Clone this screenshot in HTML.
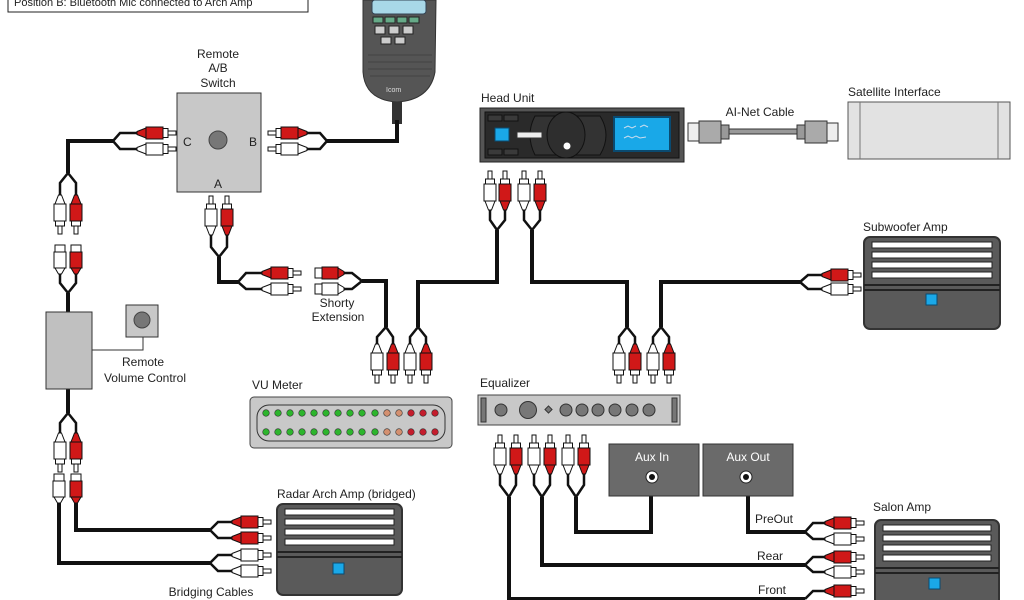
<!DOCTYPE html>
<html><head><meta charset="utf-8"><style>
html,body{margin:0;padding:0;background:#fff;}
svg{display:block;font-family:"Liberation Sans",sans-serif;}
text{font-size:12px;fill:#222;}
</style></head><body>
<svg width="1024" height="600" viewBox="0 0 1024 600" xmlns="http://www.w3.org/2000/svg">
<defs>
<g id="pr" stroke="#111" stroke-width="1">
<polygon points="0,-1.5 9,-5 9,5 0,1.5" fill="currentColor"/>
<rect x="9" y="-6" width="17" height="12" fill="currentColor"/>
<rect x="26" y="-4.5" width="5" height="9" fill="#fff"/>
<rect x="31" y="-2" width="8" height="4" fill="#fff"/>
</g>
<g id="jk" stroke="#111" stroke-width="1">
<polygon points="0,-1.5 6,-5 6,5 0,1.5" fill="currentColor"/>
<rect x="6" y="-6" width="16" height="12" fill="currentColor"/>
<rect x="22" y="-5" width="7" height="10" fill="#fff"/>
</g>
<g id="amp">
<rect x="0" y="0" width="100" height="100" rx="6" fill="#5a5a5a" stroke="#333" stroke-width="2"/>
</g>
</defs>

<!-- top label -->
<rect x="8" y="-6" width="300" height="18" fill="#fff" stroke="#222" stroke-width="1"/>
<text x="14" y="6" style="font-size:11px">Position B: Bluetooth Mic connected to Arch Amp</text>

<!-- mic -->
<path d="M363 0 L363 72 Q365 100 397 102 Q430 100 435 72 L436 0 Z" fill="#555" stroke="#333"/>
<rect x="372" y="0" width="54" height="14" rx="3" fill="#a8d8e8" stroke="#345"/>
<g fill="#6a8" stroke="#222"><rect x="373" y="17" width="10" height="6"/><rect x="385" y="17" width="10" height="6"/><rect x="397" y="17" width="10" height="6"/><rect x="409" y="17" width="10" height="6"/></g>
<g fill="#ccc" stroke="#222"><rect x="375" y="26" width="10" height="8"/><rect x="389" y="26" width="10" height="8"/><rect x="403" y="26" width="10" height="8"/><rect x="381" y="37" width="10" height="7"/><rect x="395" y="37" width="10" height="7"/></g>
<g stroke="#444" stroke-width="1"><line x1="368" y1="55" x2="432" y2="55"/><line x1="368" y1="62" x2="432" y2="62"/><line x1="368" y1="69" x2="432" y2="69"/><line x1="370" y1="76" x2="430" y2="76"/></g>
<text x="386" y="92" style="font-size:7px;fill:#ddd">Icom</text>
<rect x="392" y="102" width="10" height="22" fill="#333"/>

<!-- switch -->
<text x="218" y="58" text-anchor="middle">Remote</text>
<text x="218" y="72" text-anchor="middle">A/B</text>
<text x="218" y="87" text-anchor="middle">Switch</text>
<rect x="177" y="93" width="84" height="99" fill="#c8c8c8" stroke="#333"/>
<circle cx="218" cy="140" r="9" fill="#777" stroke="#444"/>
<text x="183" y="146">C</text><text x="249" y="146">B</text><text x="214" y="188">A</text>

<!-- main cables -->
<g fill="none" stroke="#111" stroke-width="4">
<path d="M113 141 H68 V173"/>
<path d="M68 293 V312"/>
<path d="M327 141 H397 V120"/>
<path d="M219 257 V282 H238"/>
<path d="M362 281 H386 V327"/>
<path d="M497 230 V282 H418 V327"/>
<path d="M532 230 V282 H627 V327"/>
<path d="M661 327 V282 H800"/>
<path d="M68 389 V413"/>
<path d="M76 503 V530 H210"/>
<path d="M59 503 V563 H210"/>
<path d="M576 497 V532 H651 V496"/>
<path d="M542 497 V565 H805"/>
<path d="M509 497 V599 H805"/>
<path d="M748 496 V532 H805"/>
</g>
<g fill="none" stroke="#111" stroke-width="2.5">
<path d="M113 141 L120 133 H137 M113 141 L120 149 H137"/>
<path d="M68 173 L60 183 V195 M68 173 L76 183 V195"/>
<path d="M60 274 V283 L68 293 M76 274 V283 L68 293"/>
<path d="M327 141 L320 133 H307 M327 141 L320 149 H307"/>
<path d="M211 235 V247 L219 257 M227 235 V247 L219 257"/>
<path d="M238 282 L246 273 H262 M238 282 L246 289 H262"/>
<path d="M344 273 H352 L362 281 M344 289 H352 L362 281"/>
<path d="M386 327 L377 337 V344 M386 327 L393 337 V344"/>
<path d="M418 327 L410 337 V344 M418 327 L426 337 V344"/>
<path d="M490 210 V220 L497 230 M505 210 V220 L497 230"/>
<path d="M524 210 V220 L532 230 M540 210 V220 L532 230"/>
<path d="M627 327 L619 337 V344 M627 327 L635 337 V344"/>
<path d="M661 327 L653 337 V344 M661 327 L669 337 V344"/>
<path d="M800 282 L808 275 H822 M800 282 L808 289 H822"/>
<path d="M68 413 L60 423 V433 M68 413 L76 423 V433"/>
<path d="M210 530 L218 522 H232 M210 530 L218 538 H232"/>
<path d="M210 563 L218 555 H232 M210 563 L218 571 H232"/>
<path d="M500 474 V485 L509 497 M516 474 V485 L509 497"/>
<path d="M534 474 V485 L542 497 M550 474 V485 L542 497"/>
<path d="M568 474 V485 L576 497 M584 474 V485 L576 497"/>
<path d="M805 532 L813 523 H825 M805 532 L813 539 H825"/>
<path d="M805 565 L813 557 H825 M805 565 L813 572 H825"/>
<path d="M805 599 L813 591 H825"/>
</g>

<!-- plugs -->
<use href="#pr" color="#d01818" transform="translate(137,133)"/>
<use href="#pr" color="#fff" transform="translate(137,149)"/>
<use href="#pr" color="#fff" transform="translate(60,195) rotate(90)"/>
<use href="#pr" color="#d01818" transform="translate(76,195) rotate(90)"/>
<use href="#jk" color="#fff" transform="translate(60,274) rotate(-90)"/>
<use href="#jk" color="#d01818" transform="translate(76,274) rotate(-90)"/>
<use href="#pr" color="#d01818" transform="translate(307,133) scale(-1,1)"/>
<use href="#pr" color="#fff" transform="translate(307,149) scale(-1,1)"/>
<use href="#pr" color="#fff" transform="translate(211,235) rotate(-90)"/>
<use href="#pr" color="#d01818" transform="translate(227,235) rotate(-90)"/>
<use href="#pr" color="#d01818" transform="translate(262,273)"/>
<use href="#pr" color="#fff" transform="translate(262,289)"/>
<use href="#jk" color="#d01818" transform="translate(344,273) scale(-1,1)"/>
<use href="#jk" color="#fff" transform="translate(344,289) scale(-1,1)"/>
<use href="#pr" color="#fff" transform="translate(377,344) rotate(90)"/>
<use href="#pr" color="#d01818" transform="translate(393,344) rotate(90)"/>
<use href="#pr" color="#fff" transform="translate(410,344) rotate(90)"/>
<use href="#pr" color="#d01818" transform="translate(426,344) rotate(90)"/>
<use href="#pr" color="#fff" transform="translate(490,210) rotate(-90)"/>
<use href="#pr" color="#d01818" transform="translate(505,210) rotate(-90)"/>
<use href="#pr" color="#fff" transform="translate(524,210) rotate(-90)"/>
<use href="#pr" color="#d01818" transform="translate(540,210) rotate(-90)"/>
<use href="#pr" color="#fff" transform="translate(619,344) rotate(90)"/>
<use href="#pr" color="#d01818" transform="translate(635,344) rotate(90)"/>
<use href="#pr" color="#fff" transform="translate(653,344) rotate(90)"/>
<use href="#pr" color="#d01818" transform="translate(669,344) rotate(90)"/>
<use href="#pr" color="#d01818" transform="translate(822,275)"/>
<use href="#pr" color="#fff" transform="translate(822,289)"/>
<use href="#pr" color="#fff" transform="translate(60,433) rotate(90)"/>
<use href="#pr" color="#d01818" transform="translate(76,433) rotate(90)"/>
<use href="#jk" color="#fff" transform="translate(59,503) rotate(-90)"/>
<use href="#jk" color="#d01818" transform="translate(76,503) rotate(-90)"/>
<use href="#pr" color="#d01818" transform="translate(232,522)"/>
<use href="#pr" color="#d01818" transform="translate(232,538)"/>
<use href="#pr" color="#fff" transform="translate(232,555)"/>
<use href="#pr" color="#fff" transform="translate(232,571)"/>
<use href="#pr" color="#fff" transform="translate(500,474) rotate(-90)"/>
<use href="#pr" color="#d01818" transform="translate(516,474) rotate(-90)"/>
<use href="#pr" color="#fff" transform="translate(534,474) rotate(-90)"/>
<use href="#pr" color="#d01818" transform="translate(550,474) rotate(-90)"/>
<use href="#pr" color="#fff" transform="translate(568,474) rotate(-90)"/>
<use href="#pr" color="#d01818" transform="translate(584,474) rotate(-90)"/>
<use href="#pr" color="#d01818" transform="translate(825,523)"/>
<use href="#pr" color="#fff" transform="translate(825,539)"/>
<use href="#pr" color="#d01818" transform="translate(825,557)"/>
<use href="#pr" color="#fff" transform="translate(825,572)"/>
<use href="#pr" color="#d01818" transform="translate(825,591)"/>

<text x="337" y="307" text-anchor="middle">Shorty</text>
<text x="338" y="321" text-anchor="middle">Extension</text>

<!-- head unit -->
<text x="481" y="102">Head Unit</text>
<rect x="480" y="108" width="204" height="54" fill="#555" stroke="#222"/>
<rect x="485" y="112" width="194" height="46" fill="#2a2a2a" stroke="#111"/>
<g fill="#3a3a3a" stroke="#111"><rect x="488" y="115" width="14" height="6"/><rect x="504" y="115" width="14" height="6"/><rect x="488" y="149" width="14" height="6"/><rect x="504" y="149" width="14" height="6"/></g>
<path d="M535 116 H600 Q612 135 600 155 H535 Q525 135 535 116Z" fill="#333" stroke="#111"/>
<rect x="495" y="128" width="14" height="13" fill="#1aa8e8" stroke="#0a4a70"/>
<rect x="517" y="132" width="25" height="6" fill="#eee" stroke="#333"/>
<ellipse cx="566" cy="135" rx="19" ry="23" fill="#2e2e2e" stroke="#111"/>
<circle cx="567" cy="146" r="3.5" fill="#fff"/>
<rect x="614" y="117" width="56" height="34" fill="#19a8e8" stroke="#0a4a70" stroke-width="2"/>
<path d="M624 128 l4 -2 l4 2 l4 -2 M640 127 l4 -2 l4 2 M624 138 l4 -2 l4 2 l4 -2 l4 2 l6 -1" stroke="#cde" fill="none"/>

<!-- AI-Net -->
<text x="760" y="116" text-anchor="middle">AI-Net Cable</text>
<rect x="728" y="129" width="70" height="5" fill="#999" stroke="#333"/>
<rect x="688" y="123" width="11" height="18" fill="#eee" stroke="#333"/>
<rect x="699" y="121" width="22" height="22" fill="#aaa" stroke="#333"/>
<rect x="721" y="125" width="8" height="14" fill="#999" stroke="#333"/>
<rect x="797" y="125" width="8" height="14" fill="#999" stroke="#333"/>
<rect x="805" y="121" width="22" height="22" fill="#aaa" stroke="#333"/>
<rect x="827" y="123" width="11" height="18" fill="#eee" stroke="#333"/>

<!-- satellite -->
<text x="848" y="96">Satellite Interface</text>
<rect x="848" y="102" width="162" height="57" fill="#e2e2e2" stroke="#555"/>
<line x1="860" y1="102" x2="860" y2="159" stroke="#777"/><line x1="998" y1="102" x2="998" y2="159" stroke="#777"/>

<!-- amps -->
<g id="subamp" transform="translate(864,237)">
<rect x="0" y="0" width="136" height="92" rx="6" fill="#5a5a5a" stroke="#333" stroke-width="2"/>
<g fill="#fff" stroke="#222"><rect x="8" y="5" width="120" height="6"/><rect x="8" y="15" width="120" height="6"/><rect x="8" y="25" width="120" height="6"/><rect x="8" y="35" width="120" height="6"/></g>
<line x1="0" y1="48" x2="136" y2="48" stroke="#222" stroke-width="2"/><line x1="0" y1="53" x2="136" y2="53" stroke="#222" stroke-width="2"/>
<rect x="62" y="57" width="11" height="11" fill="#1aa8e8" stroke="#0a4a70"/>
</g>
<text x="863" y="231">Subwoofer Amp</text>

<g transform="translate(277,504)">
<rect x="0" y="0" width="125" height="91" rx="6" fill="#5a5a5a" stroke="#333" stroke-width="2"/>
<g fill="#fff" stroke="#222"><rect x="8" y="5" width="109" height="6"/><rect x="8" y="15" width="109" height="6"/><rect x="8" y="25" width="109" height="6"/><rect x="8" y="35" width="109" height="6"/></g>
<line x1="0" y1="48" x2="125" y2="48" stroke="#222" stroke-width="2"/><line x1="0" y1="53" x2="125" y2="53" stroke="#222" stroke-width="2"/>
<rect x="56" y="59" width="11" height="11" fill="#1aa8e8" stroke="#0a4a70"/>
</g>
<text x="277" y="498">Radar Arch Amp (bridged)</text>
<text x="211" y="596" text-anchor="middle">Bridging Cables</text>

<g transform="translate(875,520)">
<rect x="0" y="0" width="124" height="92" rx="6" fill="#5a5a5a" stroke="#333" stroke-width="2"/>
<g fill="#fff" stroke="#222"><rect x="8" y="5" width="108" height="6"/><rect x="8" y="15" width="108" height="6"/><rect x="8" y="25" width="108" height="6"/><rect x="8" y="35" width="108" height="6"/></g>
<line x1="0" y1="48" x2="124" y2="48" stroke="#222" stroke-width="2"/><line x1="0" y1="53" x2="124" y2="53" stroke="#222" stroke-width="2"/>
<rect x="54" y="58" width="11" height="11" fill="#1aa8e8" stroke="#0a4a70"/>
</g>
<text x="873" y="511">Salon Amp</text>

<!-- volume -->
<rect x="46" y="312" width="46" height="77" fill="#c0c0c0" stroke="#333"/>
<rect x="126" y="305" width="32" height="32" fill="#c8c8c8" stroke="#333"/>
<circle cx="142" cy="320" r="8" fill="#777" stroke="#444"/>
<path d="M92 350 H143 V337" fill="none" stroke="#333"/>
<text x="143" y="366" text-anchor="middle">Remote</text>
<text x="145" y="382" text-anchor="middle">Volume Control</text>

<!-- VU -->
<text x="252" y="389">VU Meter</text>
<rect x="250" y="397" width="202" height="51" rx="4" fill="#c8c8c8" stroke="#444"/>
<rect x="257" y="405" width="188" height="36" rx="12" fill="#c8c8c8" stroke="#333"/>
<g stroke="#333" stroke-width="0.6">
<circle cx="266" cy="413" r="3.3" fill="#2db52d"/><circle cx="278" cy="413" r="3.3" fill="#2db52d"/><circle cx="290" cy="413" r="3.3" fill="#2db52d"/><circle cx="302" cy="413" r="3.3" fill="#2db52d"/><circle cx="314" cy="413" r="3.3" fill="#2db52d"/><circle cx="326" cy="413" r="3.3" fill="#2db52d"/><circle cx="338" cy="413" r="3.3" fill="#2db52d"/><circle cx="350" cy="413" r="3.3" fill="#2db52d"/><circle cx="362" cy="413" r="3.3" fill="#2db52d"/><circle cx="375" cy="413" r="3.3" fill="#2db52d"/><circle cx="387" cy="413" r="3.3" fill="#d49070"/><circle cx="399" cy="413" r="3.3" fill="#d49070"/><circle cx="411" cy="413" r="3.3" fill="#c41c2c"/><circle cx="423" cy="413" r="3.3" fill="#c41c2c"/><circle cx="435" cy="413" r="3.3" fill="#c41c2c"/>
<circle cx="266" cy="432" r="3.3" fill="#2db52d"/><circle cx="278" cy="432" r="3.3" fill="#2db52d"/><circle cx="290" cy="432" r="3.3" fill="#2db52d"/><circle cx="302" cy="432" r="3.3" fill="#2db52d"/><circle cx="314" cy="432" r="3.3" fill="#2db52d"/><circle cx="326" cy="432" r="3.3" fill="#2db52d"/><circle cx="338" cy="432" r="3.3" fill="#2db52d"/><circle cx="350" cy="432" r="3.3" fill="#2db52d"/><circle cx="362" cy="432" r="3.3" fill="#2db52d"/><circle cx="375" cy="432" r="3.3" fill="#2db52d"/><circle cx="387" cy="432" r="3.3" fill="#d49070"/><circle cx="399" cy="432" r="3.3" fill="#d49070"/><circle cx="411" cy="432" r="3.3" fill="#c41c2c"/><circle cx="423" cy="432" r="3.3" fill="#c41c2c"/><circle cx="435" cy="432" r="3.3" fill="#c41c2c"/>
</g>

<!-- EQ -->
<text x="480" y="387">Equalizer</text>
<rect x="478" y="395" width="202" height="30" fill="#c8c8c8" stroke="#444"/>
<rect x="481" y="398" width="5" height="24" fill="#777" stroke="#333"/>
<rect x="672" y="398" width="5" height="24" fill="#777" stroke="#333"/>
<g fill="#777" stroke="#333">
<circle cx="501" cy="410" r="6"/><circle cx="528" cy="410" r="8.5"/>
<rect x="546" y="407" width="5" height="5" transform="rotate(45 548.5 409.5)"/>
<circle cx="566" cy="410" r="6"/><circle cx="582" cy="410" r="6"/><circle cx="598" cy="410" r="6"/><circle cx="615" cy="410" r="6"/><circle cx="632" cy="410" r="6"/><circle cx="649" cy="410" r="6"/>
</g>

<!-- aux -->
<rect x="609" y="444" width="90" height="52" fill="#6a6a6a" stroke="#333"/>
<text x="652" y="461" text-anchor="middle" style="fill:#fff">Aux In</text>
<circle cx="652" cy="477" r="6" fill="#fff" stroke="#222"/><circle cx="652" cy="477" r="3" fill="#111"/>
<rect x="703" y="444" width="90" height="52" fill="#6a6a6a" stroke="#333"/>
<text x="748" y="461" text-anchor="middle" style="fill:#fff">Aux Out</text>
<circle cx="746" cy="477" r="6" fill="#fff" stroke="#222"/><circle cx="746" cy="477" r="3" fill="#111"/>

<text x="755" y="523">PreOut</text>
<text x="757" y="560">Rear</text>
<text x="758" y="594">Front</text>
</svg>
</body></html>
